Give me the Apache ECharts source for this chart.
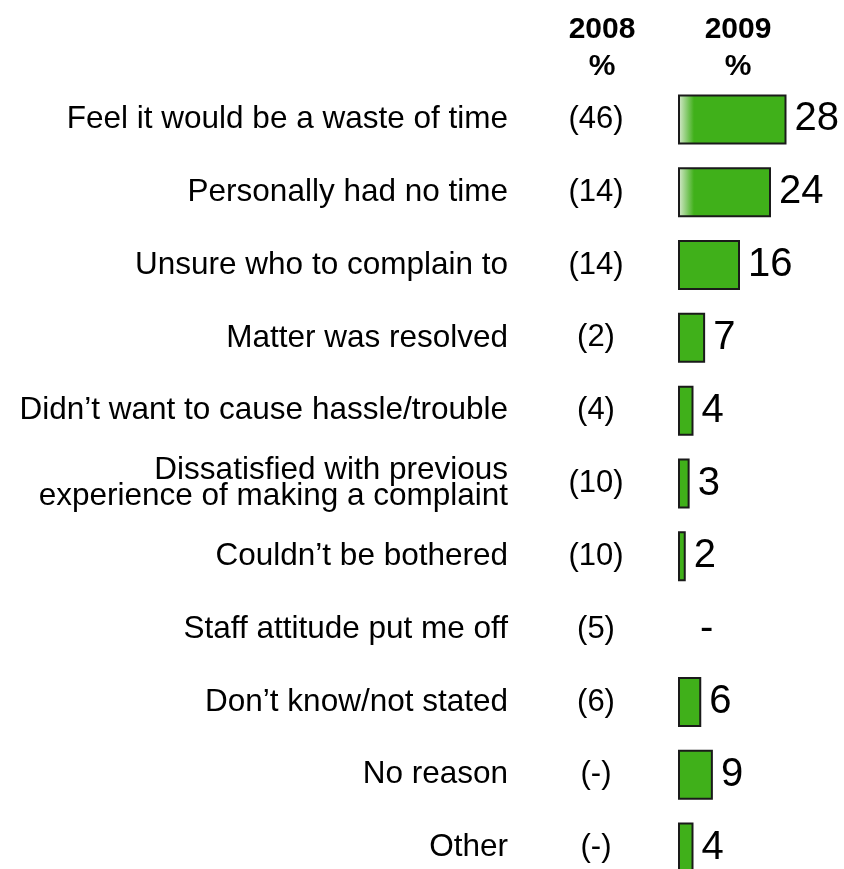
<!DOCTYPE html>
<html><head><meta charset="utf-8">
<script src="https://cdn.jsdelivr.net/npm/echarts@6/dist/echarts.min.js"></script>
<style>html,body{margin:0;padding:0;background:#fff}#c{width:844px;height:869px}</style>
</head><body><div id="c"></div>
<script>
const categories = ["Feel it would be a waste of time","Personally had no time","Unsure who to complain to","Matter was resolved","Didn\u2019t want to cause hassle/trouble","Dissatisfied with previous\nexperience of making a complaint","Couldn\u2019t be bothered","Staff attitude put me off","Don\u2019t know/not stated","No reason","Other"];
const labels2008 = ["(46)","(14)","(14)","(2)","(4)","(10)","(10)","(5)","(6)","(-)","(-)"];
const values2009 = [28,24,16,7,4,3,2,0,6,9,4];
const headers = ["2008\n%","2009\n%"];

const GREEN = '#40B01A';
const FONT = '"Liberation Sans", Arial, sans-serif';
const data = values2009.map((v,i)=>{
  const d = {value:v};
  if (i < 2) {
    const w = v*3.88;
    d.itemStyle = {color:{type:'linear',x:0,y:0,x2:1,y2:0,colorStops:[
      {offset:0,color:'#dcebd4'},{offset:Math.min(1,16/w),color:GREEN},{offset:1,color:GREEN}]}};
  }
  if (v === 0) {
    d.itemStyle = {borderWidth:0};
    d.label = {offset:[14,0]};
  }
  return d;
});
const chart = echarts.init(document.getElementById('c'));
chart.setOption({
  animation:false,
  title:[
    {text:headers[0],left:597,top:6,textAlign:'center',textStyle:{fontFamily:FONT,fontSize:30,fontWeight:'bold',lineHeight:37,color:'#000'}},
    {text:headers[1],left:733,top:6,textAlign:'center',textStyle:{fontFamily:FONT,fontSize:30,fontWeight:'bold',lineHeight:37,color:'#000'}}
  ],
  grid:{left:678,top:83,width:155,height:801,outerBoundsMode:'none'},
  xAxis:{type:'value',min:0,max:40,show:false},
  yAxis:[
    {type:'category',data:categories,inverse:true,position:'left',
     axisLine:{show:false},axisTick:{show:false},
     axisLabel:{margin:170,align:'right',fontFamily:FONT,fontSize:31.5,lineHeight:26,color:'#000'}},
    {type:'category',data:labels2008,inverse:true,position:'left',offset:0,
     axisLine:{show:false},axisTick:{show:false},
     axisLabel:{margin:82,align:'center',fontFamily:FONT,fontSize:31,color:'#000'}}
  ],
  series:[{
    type:'bar',data:data,barWidth:50,
    itemStyle:{color:GREEN,borderColor:'#1a1a1a',borderWidth:2},
    label:{show:true,position:'right',distance:8,fontFamily:FONT,fontSize:40,color:'#000',
      formatter:p=>p.value===0?'-':String(p.value)}
  }]
});
</script></body></html>
